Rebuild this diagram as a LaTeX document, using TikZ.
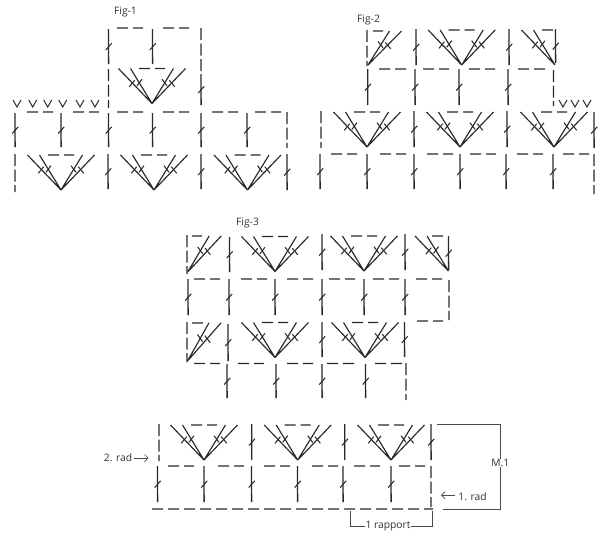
\documentclass[tikz,border=0pt]{standalone}
\usepackage{fontspec}
\usetikzlibrary{arrows.meta}
\setmainfont{Open Sans}
\definecolor{ink}{HTML}{2A2A2A}
\definecolor{lab}{HTML}{333333}
\tikzset{
  x=1pt,y=-1pt,
  stl/.style={draw=ink,line width=1.4pt},
  fn/.style={draw=ink,line width=1.15pt},
  thin tick/.style={draw=ink,line width=1.05pt},
  chn/.style={draw=ink,line width=1.3pt,dash pattern=on 11pt off 5pt},
  vchn/.style={draw=ink,line width=1.3pt,dash pattern=on 12pt off 3.5pt},
  vee/.style={draw=ink,line width=1pt},
  lbl/.style={inner sep=0pt,font=\fontsize{10.3}{12}\selectfont,text=lab},
  conn/.style={draw=ink!85,line width=1.1pt},
  arw/.style={draw=ink!85,line width=.7pt,-{Straight Barb[length=3.5pt,width=7pt]}}
}
\newcommand{\khalfL}{%
  \draw[fn] (0,0)--(-33.5,-35) (0,0)--(-21.5,-35);
  \draw[thin tick] (-22.7,-16.7)--(-17.3,-23.3) (-15,-17.7)--(-10,-24.3);}
\newcommand{\khalfR}{%
  \draw[fn] (0,0)--(33.5,-35) (0,0)--(21.5,-35);
  \draw[thin tick] (22.7,-16.7)--(17.3,-23.3) (15,-17.7)--(10,-24.3);}
\newcommand{\kh}[3]{\draw[chn] (#1,#3)--(#2,#3+0.06);}
\newcommand{\kfan}[2]{\begin{scope}[shift={(#1,#2)}]\khalfL\khalfR\end{scope}
  \pgfmathsetmacro{\kfa}{#1-13}\pgfmathsetmacro{\kfb}{#1+13}\pgfmathsetmacro{\kfc}{#2-35}
  \kh{\kfa}{\kfb}{\kfc}}
\newcommand{\kfanL}[2]{\begin{scope}[shift={(#1,#2)}]\khalfL\end{scope}}
\newcommand{\kfanR}[3]{\begin{scope}[shift={(#1,#2)},yscale=#3]\khalfR\end{scope}}
\newcommand{\kst}[3]{\draw[stl] (#1,#2)--(#1+0.06,#3);
  \pgfmathsetmacro{\kym}{(#2+#3)/2}
  \draw[thin tick] (#1-2.8,\kym+3.6)--(#1+3.2,\kym-3.2);}
\newcommand{\kv}[3]{\draw[vchn] (#1,#2)--(#1+0.06,#3);}
\newcommand{\kvee}[2]{\draw[vee] (#1-4,#2)--(#1,#2+7)--(#1+4,#2);}
\begin{document}
\begin{tikzpicture}
\useasboundingbox (0,0) rectangle (600,536);
\fill[white] (0,0) rectangle (600,536);
% ---------- Fig-1
\node[lbl] (f1) at (125.5,11.5) {Fig-1};
\foreach \a/\b in {117/143,163/189} {\kh{\a}{\b}{28}}
\kst{108.5}{29}{64}
\kst{152.5}{29}{64}
\kv{108.5}{69}{108}
\kv{201}{28}{72}
\kst{201}{74}{105}
\kfan{152}{103.5}
\foreach \x in {17,32.7,47.7,62.7,80,95} {\kvee{\x}{100}}
\foreach \a/\b in {27/53,73/99,117/143,163/189,212/238,255/281} {\kh{\a}{\b}{112}}
\foreach \x in {15,61,108.5,152.5,201,247} {\kst{\x}{113}{147}}
\kv{287}{112}{148}
\kv{15}{154}{192}
\foreach \x in {61,154,247.5} {\kfan{\x}{190}}
\kst{108}{154}{189}
\kst{201}{154}{189}
\kst{287}{154}{190}
% ---------- Fig-2
\node[lbl] (f2) at (368.5,20) {Fig-2};
\kv{367}{30}{66}
\kh{373}{383}{31}
\kfanR{368}{65}{.97}
\kst{416}{29}{65}
\kfan{461.7}{65}
\kst{509}{29}{65}
\kfanL{555}{65}
\kh{542}{553}{30}
\kst{555.5}{29}{63}
\foreach \a/\b in {379/406,423/449,469/495,518/545} {\kh{\a}{\b}{69}}
\foreach \x in {367.7,415,459,508} {\kst{\x}{69}{105}}
\kv{553.5}{70}{106}
\foreach \x in {563,575,587} {\kvee{\x}{100}}
\kv{321}{111}{148}
\foreach \x in {367,460,554} {\kfan{\x}{147}}
\kst{414}{111}{147}
\kst{507}{111}{147}
\kst{594}{112}{148}
\foreach \a/\b in {331/357,380/406,427/453,470/496,517/543,563/589} {\kh{\a}{\b}{154}}
\foreach \x in {320,367,414,460,506,553} {\kst{\x}{154}{189}}
\kv{594}{154}{194}
% ---------- Fig-3
\node[lbl] (f3) at (247.5,222.5) {Fig-3};
\kv{187}{235}{274}
\kh{192}{202}{236}
\kfanR{187.7}{272}{1.03}
\kst{229.5}{237}{272}
\kfan{275}{271.5}
\kst{322}{234}{270}
\kfan{364}{271}
\kst{405}{234}{270}
\kfanL{448.5}{271}
\kh{432}{443}{236}
\kst{448.5}{236}{270}
\foreach \a/\b in {194/220,241/267,287/313,329/355,373/399,416/442} {\kh{\a}{\b}{279}}
\foreach \x in {188,229,275,322,364,405} {\kst{\x}{279}{315}}
\kv{449}{280}{320}
\kh{417}{443}{321}
\kv{187}{322}{362}
\kh{192}{203}{323}
\kfanR{187.5}{361}{1.09}
\kst{228}{324}{361}
\kfan{275}{357.5}
\kst{322}{322}{357}
\kfan{365}{357.5}
\kst{404.5}{322}{357}
\foreach \a/\b in {194/220,238/264,287/313,327/354,375/402} {\kh{\a}{\b}{363.5}}
\foreach \x in {227,276,322,365.5} {\kst{\x}{364}{398}}
\kv{406}{363}{400}
% ---------- bottom chart
\kv{159}{424}{461}
\foreach \x in {204,297.7,391} {\kfan{\x}{460}}
\kst{251.7}{424}{460}
\kst{344.7}{424}{460}
\kst{431}{424}{460}
\foreach \a/\b in {168/194,218/244,264/290,312/338,354/380,399/425} {\kh{\a}{\b}{466}}
\foreach \x in {157.5,204,251.5,297.5,343,391} {\kst{\x}{466}{502}}
\kv{431}{466}{507}
\kh{152}{433}{509}
\node[lbl] (r2) at (118,458) {2. rad};
\coordinate (r2e) at (148.5,458);
\draw[arw] (r2.east) ++(2,0) -- (r2e);
\node[lbl] (r1) at (472.5,497) {1. rad};
\coordinate (r1w) at (441,495);
\draw[arw] (r1.west) ++(-3,-2) -- (r1w);
\node[lbl] (m1) at (500.25,463) {M.1};
\coordinate (mt) at (437,424.25);
\coordinate (mb) at (442.5,509.25);
\draw[conn] (mt) -| (m1.north);
\draw[conn] (mb) -| (m1.south);
\node[lbl] (rp) at (388,526.5) {1 rapport};
\coordinate (rl) at (350.25,511);
\coordinate (rr) at (432.25,511);
\draw[conn] (rl) |- (rp.west);
\draw[conn] (rr) |- (rp.east);
\end{tikzpicture}
\end{document}
